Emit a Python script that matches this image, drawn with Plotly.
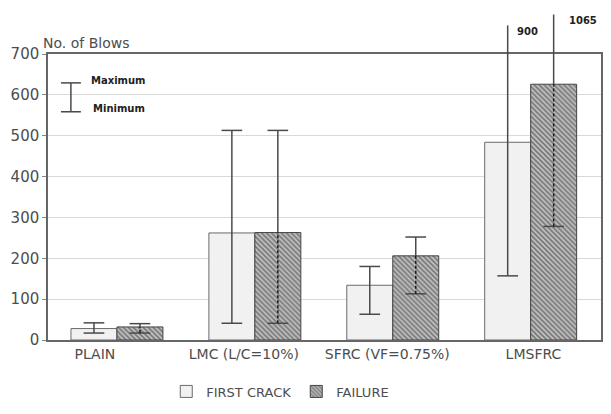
import plotly.graph_objects as go

# Impact test results: number of blows at first crack and at failure
categories = ["PLAIN", "LMC (L/C=10%)", "SFRC (VF=0.75%)", "LMSFRC"]
first_crack = [28, 262, 134, 484]
first_crack_min = [17, 41, 63, 157]
first_crack_max = [42, 513, 180, 900]
failure = [32, 263, 206, 626]
failure_min = [17, 41, 113, 278]
failure_max = [40, 513, 252, 1065]
y_ticks = [0, 100, 200, 300, 400, 500, 600, 700]

Y_TOP = 700
BAR_W = 1 / 3
CAP = 0.075
LINE = "#4a4a4a"
TEXT = "#4d4d4d"
FONT = "DejaVu Sans"

pos = list(range(len(categories)))
fc_x = [p - BAR_W / 2 for p in pos]
fl_x = [p + BAR_W / 2 for p in pos]

fig = go.Figure()

fig.add_trace(go.Bar(
    name="FIRST CRACK", x=pos, y=first_crack, width=BAR_W, offset=-BAR_W,
    marker=dict(color="#f1f1f1", line=dict(color="#6a6a6a", width=1)),
))
fig.add_trace(go.Bar(
    name="FAILURE", x=pos, y=failure, width=BAR_W, offset=0,
    marker=dict(color="#b8b8b8", line=dict(color="#444444", width=1),
                pattern=dict(shape="\\", size=3.5, solidity=0.55,
                             fgcolor="#2e2e2e", bgcolor="#c4c4c4")),
))


def add_seg(xs, ys, x0, y0, x1, y1):
    xs += [x0, x1, None]
    ys += [y0, y1, None]


def caps(xs, ys, xc, lo, hi):
    add_seg(xs, ys, xc - CAP, lo, xc + CAP, lo)
    if hi <= Y_TOP:
        add_seg(xs, ys, xc - CAP, hi, xc + CAP, hi)


# First crack whiskers: solid line from minimum to maximum
sx, sy = [], []
for xc, lo, hi in zip(fc_x, first_crack_min, first_crack_max):
    add_seg(sx, sy, xc, lo, xc, hi)
    caps(sx, sy, xc, lo, hi)

# Failure whiskers: dashed inside the hatched bar, solid above it
dx, dy = [], []
for xc, v, lo, hi in zip(fl_x, failure, failure_min, failure_max):
    add_seg(dx, dy, xc, lo, xc, v)
    add_seg(sx, sy, xc, v, xc, hi)
    caps(sx, sy, xc, lo, hi)

fig.add_trace(go.Scatter(x=sx, y=sy, mode="lines", showlegend=False,
                         hoverinfo="skip", line=dict(color=LINE, width=1.5)))
fig.add_trace(go.Scatter(x=dx, y=dy, mode="lines", showlegend=False,
                         hoverinfo="skip",
                         line=dict(color="#1a1a1a", width=1.5, dash="3px,2px")))

shapes = []
annotations = []

# Maxima beyond the axis: line continues above the frame, value written beside it
overflow = [(fc_x, first_crack_max, 1.10, 0.05), (fl_x, failure_max, 1.138, 0.1)]
for xs_, maxima, top, dxl in overflow:
    for xc, hi in zip(xs_, maxima):
        if hi > Y_TOP:
            shapes.append(dict(type="line", xref="x", yref="paper",
                               x0=xc, x1=xc, y0=1, y1=top,
                               line=dict(color=LINE, width=1.5)))
            annotations.append(dict(xref="x", yref="paper", x=xc + dxl,
                                    y=top - 0.022, text=f"<b>{hi}</b>",
                                    showarrow=False, xanchor="left",
                                    yanchor="middle",
                                    font=dict(family=FONT, size=10, color="#222")))

# Maximum / Minimum key
kx, kx0, kx1 = 0.0414, 0.0234, 0.0595
ky0, ky1 = 0.798, 0.899
for seg in [(kx, ky0, kx, ky1), (kx0, ky1, kx1, ky1), (kx0, ky0, kx1, ky0)]:
    shapes.append(dict(type="line", xref="paper", yref="paper",
                       x0=seg[0], y0=seg[1], x1=seg[2], y1=seg[3],
                       line=dict(color=LINE, width=1.5)))
annotations.append(dict(xref="paper", yref="paper", x=0.075, y=0.906,
                        text="<b>Maximum</b>", showarrow=False, xanchor="left",
                        yanchor="middle",
                        font=dict(family=FONT, size=10, color="#222")))
annotations.append(dict(xref="paper", yref="paper", x=0.078, y=0.808,
                        text="<b>Minimum</b>", showarrow=False, xanchor="left",
                        yanchor="middle",
                        font=dict(family=FONT, size=10, color="#222")))

annotations.append(dict(xref="paper", yref="paper", x=-0.012, y=1.005,
                        text="No. of Blows", showarrow=False, xanchor="left",
                        yanchor="bottom",
                        font=dict(family=FONT, size=14, color=TEXT)))

label_shift = [-0.16, -0.08, -0.04, 0.02]

fig.update_layout(
    width=611, height=414,
    margin=dict(l=48, r=8, t=54, b=63),
    plot_bgcolor="white", paper_bgcolor="white",
    font=dict(family=FONT, color=TEXT),
    barmode="overlay",
    shapes=shapes, annotations=annotations,
    legend=dict(orientation="h", x=0.42, xanchor="center", y=-0.18,
                yanchor="middle", font=dict(family=FONT, size=13, color=TEXT),
                itemwidth=30, traceorder="normal"),
    xaxis=dict(range=[-0.5, 3.51], showgrid=False, zeroline=False,
               showline=True, mirror=True, linecolor="#666", linewidth=1.5,
               tickvals=[p + s for p, s in zip(pos, label_shift)],
               ticktext=categories, ticks="",
               tickfont=dict(family=FONT, size=14, color=TEXT)),
    yaxis=dict(range=[0, Y_TOP], tickvals=y_ticks, showgrid=True,
               gridcolor="#d9d9d9", gridwidth=1, zeroline=False,
               showline=True, mirror=True, linecolor="#666", linewidth=1.5,
               ticks="outside", ticklen=4, tickcolor="#888",
               tickfont=dict(family=FONT, size=15, color=TEXT)),
)

fig.write_html("out.html")
